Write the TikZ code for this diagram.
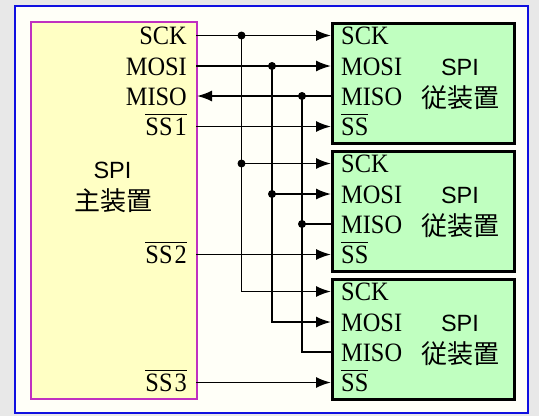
\documentclass[tikz,border=0pt]{standalone}
\usepackage{fontspec}
\setmainfont{Liberation Serif}[FakeStretch=0.92]
\newfontfamily\cjk{Noto Sans CJK JP}
\newfontfamily\sansf{Liberation Sans}
\usetikzlibrary{arrows.meta}
\definecolor{bggrey}{HTML}{E8E8E8}
\definecolor{framefill}{HTML}{FFFFF8}
\definecolor{frameblue}{HTML}{1010E0}
\definecolor{masterfill}{HTML}{FFFFC4}
\definecolor{masterline}{HTML}{C030C0}
\definecolor{slavefill}{HTML}{C0FFC0}
\newcommand\ovl[1]{\leavevmode\vbox{\hrule height 1.3bp\kern 2.6bp\hbox{#1}}}
\tikzset{
  pinfont/.style={font=\fontsize{26.5bp}{28bp}\selectfont, inner sep=0pt},
  mpin/.style={pinfont, anchor=base east},
  spin/.style={pinfont, anchor=base west},
  sanslbl/.style={font=\sansf\fontsize{23.5bp}{25bp}\selectfont, inner sep=0pt},
  cjklbl/.style={font=\cjk\fontsize{26bp}{28bp}\selectfont, inner sep=0pt},
  slavebox/.style={draw=black, line width=3bp, fill=slavefill, anchor=north west,
    minimum width=182bp, minimum height=120.5bp, inner sep=0pt},
  masterbox/.style={draw=masterline, line width=2bp, fill=masterfill, anchor=north west,
    minimum width=166bp, minimum height=377.5bp, inner sep=0pt},
  sig/.style={line width=1.7bp, -{Latex[length=15bp,width=11bp]}},
  wire/.style={line width=1.7bp},
  junction/.style={fill=black},
}
\begin{document}
\begin{tikzpicture}[x=1bp,y=-1bp]
\useasboundingbox (0,0) rectangle (539,416);
\fill[bggrey] (0,0) rectangle (539,416);
\draw[frameblue, line width=2bp, fill=framefill] (15,6) rectangle (528,412.5);

% master
\node[masterbox] (master) at (30,20.5) {};
\node[sanslbl] (mspi) at (112.5,170) {SPI};
\node[cjklbl] (mname) at (113,201) {主装置};
\node[mpin] (lsck) at (187,44.5) {SCK};
\node[mpin] (lmosi) at (187,75) {MOSI};
\node[mpin] (lmiso) at (187,105) {MISO};
\node[mpin] (lss1) at (187,135.5) {\ovl{SS\kern2bp 1}};
\node[mpin] (lss2) at (187,263.5) {\ovl{SS\kern2bp 2}};
\node[mpin] (lss3) at (187,391.5) {\ovl{SS\kern2bp 3}};
\coordinate (m-sck) at (196,35.5);
\coordinate (m-mosi) at (196,66);
\coordinate (m-miso) at (197,96);
\coordinate (m-ss1) at (196,126.5);
\coordinate (m-ss2) at (196,254.5);
\coordinate (m-ss3) at (196,382.5);

% slaves
\foreach \i/\t in {1/21.5,2/149.5,3/277.5}{
  \node[slavebox] (s\i) at (331,\t) {};
  \coordinate (s\i-sck) at (331,\t+14);
  \coordinate (s\i-mosi) at (331,\t+44.5);
  \coordinate (s\i-miso) at (331,\t+74.5);
  \coordinate (s\i-ss) at (331,\t+105);
  \node[spin] (s\i-lsck) at (341,\t+23) {SCK};
  \node[spin] (s\i-lmosi) at (341,\t+53.5) {MOSI};
  \node[spin] (s\i-lmiso) at (341,\t+83.5) {MISO};
  \node[spin] (s\i-lss) at (341,\t+114) {\ovl{SS}};
  \node[sanslbl] (s\i-spi) at (460,\t+45.5) {SPI};
  \node[cjklbl] (s\i-name) at (460,\t+76.5) {従装置};
}

% bus junctions
\coordinate (bsck) at (241.5,35.5);
\coordinate (bmosi) at (272,66);
\coordinate (bmiso) at (302,96);

% direct lines
\draw[sig] (m-sck) -- (s1-sck);
\draw[sig] (m-mosi) -- (s1-mosi);
\draw[sig] (s1-miso) -- (m-miso);
\draw[sig] (m-ss1) -- (s1-ss);
\draw[sig] (m-ss2) -- (s2-ss);
\draw[sig] (m-ss3) -- (s3-ss);

% SCK bus
\draw[sig] (bsck) |- (s3-sck);
\draw[sig] (bsck |- s2-sck) -- (s2-sck);
% MOSI bus
\draw[sig] (bmosi) |- (s3-mosi);
\draw[sig] (bmosi |- s2-mosi) -- (s2-mosi);
% MISO bus
\draw[wire] (s3-miso) -| (bmiso);
\draw[wire] (s2-miso) -- (bmiso |- s2-miso);

% dots
\fill[junction] (bsck) circle (4);
\fill[junction] (bsck |- s2-sck) circle (4);
\fill[junction] (bmosi) circle (4);
\fill[junction] (bmosi |- s2-mosi) circle (4);
\fill[junction] (bmiso) circle (4);
\fill[junction] (bmiso |- s2-miso) circle (4);
\end{tikzpicture}
\end{document}
